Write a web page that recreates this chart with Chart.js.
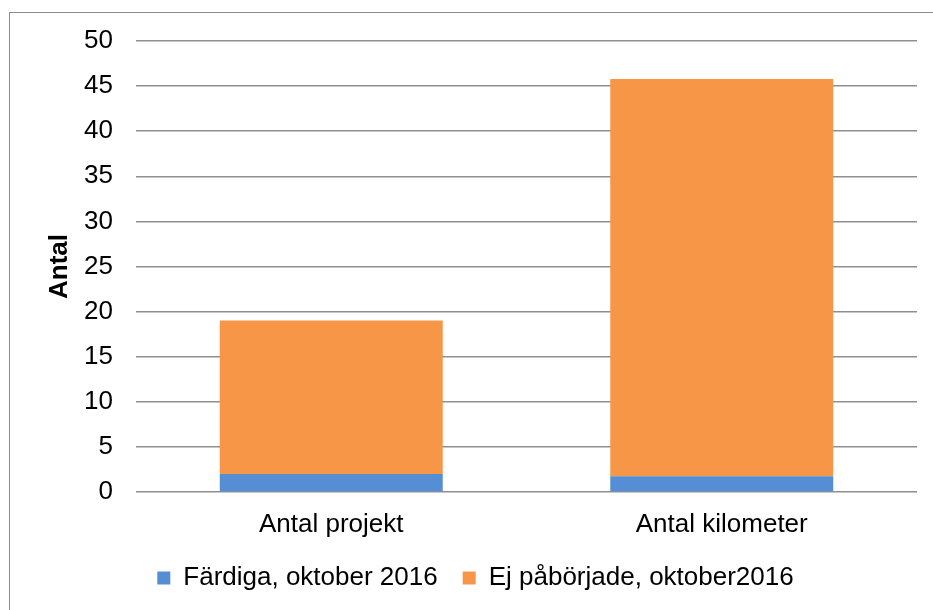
<!DOCTYPE html>
<html>
<head>
<meta charset="utf-8">
<script src="https://cdn.jsdelivr.net/npm/chart.js@4/dist/chart.umd.min.js"></script>
<style>
    html, body { margin: 0; padding: 0; background: #fff; }
    .frame {
        position: absolute; left: 9px; top: 12px; width: 940px; height: 620px;
        border-left: 1.5px solid #8c8c8c; border-top: 1.5px solid #8c8c8c;
    }
    .wrap { position: absolute; left: 0; top: 0; width: 933px; height: 610px; }
</style>
</head>
<body>
<div class="frame"></div>
<div class="wrap"><canvas id="stats"></canvas></div>

<script>
    var categories = ['Antal projekt', 'Antal kilometer'];
    var fardiga = [2, 1.75];
    var ejPaborjade = [17, 44.05];
    var seriesNames = ['Färdiga, oktober 2016', 'Ej påbörjade, oktober2016'];

    var font = "'Liberation Sans', Arial, sans-serif";

    var ctx = document.getElementById('stats').getContext('2d');
    new Chart(ctx, {
        type: 'bar',
        data: {
            labels: categories,
            datasets: [
                { label: seriesNames[0], data: fardiga, backgroundColor: '#558ed5' },
                { label: seriesNames[1], data: ejPaborjade, backgroundColor: '#f79646' }
            ]
        },
        options: {
            responsive: true,
            maintainAspectRatio: false,
            animation: false,
            categoryPercentage: 0.571,
            barPercentage: 1,
            layout: { padding: { left: 34, right: 16, top: 41, bottom: 9 } },
            plugins: {
                tooltip: { enabled: false },
                legend: {
                    position: 'bottom',
                    labels: {
                        boxWidth: 13, boxHeight: 13, padding: 25,
                        color: '#000', font: { family: font, size: 26 }
                    }
                }
            },
            scales: {
                x: {
                    stacked: true,
                    grid: { display: false, drawTicks: false },
                    border: { display: false },
                    ticks: { color: '#000', padding: 17, font: { family: font, size: 26 } },
                    afterFit: function (scale) { scale.height = 48; }
                },
                y: {
                    stacked: true,
                    min: 0, max: 50,
                    grid: { color: '#8f8f8f', lineWidth: 1.5, drawTicks: false },
                    border: { display: false },
                    ticks: { stepSize: 5, color: '#000', padding: 23, font: { family: font, size: 26 } },
                    title: {
                        display: true, text: 'Antal', color: '#000',
                        padding: { top: 10, bottom: 0 },
                        font: { family: font, size: 26, weight: 'bold' }
                    },
                    afterFit: function (scale) { scale.width = 102; }
                }
            }
        }
    });
</script>
</body>
</html>
